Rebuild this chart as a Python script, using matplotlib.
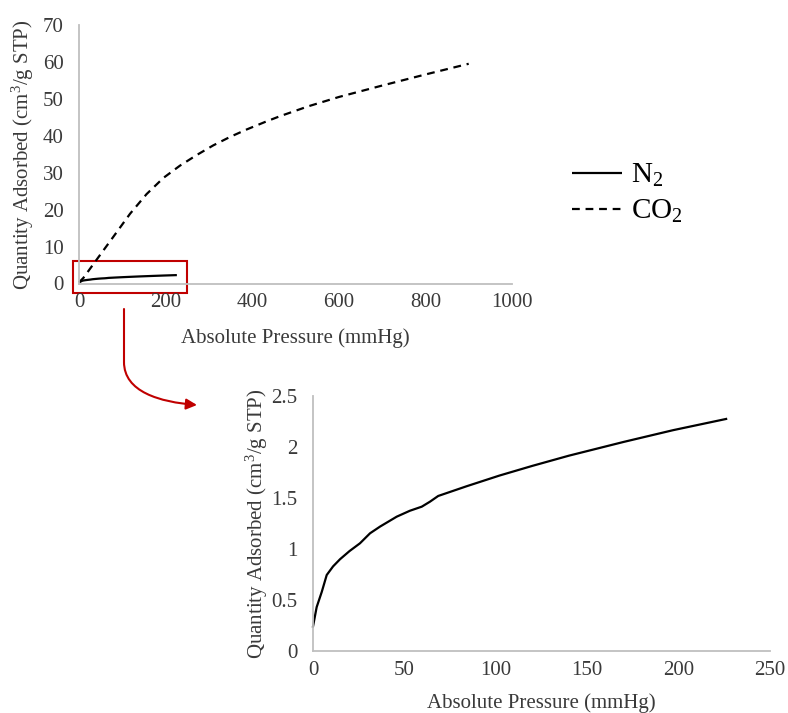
import matplotlib
matplotlib.use("Agg")
import matplotlib.pyplot as plt
from matplotlib.patches import Rectangle, FancyArrowPatch
from matplotlib.path import Path

plt.rcParams['font.family'] = ['Liberation Serif', 'DejaVu Serif']
plt.rcParams['mathtext.fontset'] = 'custom'
plt.rcParams['mathtext.rm'] = 'Liberation Serif'
plt.rcParams['mathtext.it'] = 'Liberation Serif:italic'
plt.rcParams['mathtext.bf'] = 'Liberation Serif:bold'

# ---- data ----
co2_p = [0, 10, 41, 79, 118, 156, 195, 233, 272, 310, 349, 387, 433, 464, 530, 600, 700, 800, 900]
co2_q = [0.3, 1.5, 6.5, 12.6, 18.9, 24.2, 28.6, 31.9, 34.8, 37.4, 39.7, 41.7, 43.9, 45.3, 48.0, 50.5, 53.6, 56.6, 59.5]

n2_p = [0, 2, 4.8, 7.5, 11, 14.8, 20, 25.7, 31.2, 36.7, 45.8, 53, 59.5, 64, 68.5, 84, 102, 120, 140, 170, 197, 226]
n2_q = [0.24, 0.43, 0.58, 0.745, 0.83, 0.9, 0.98, 1.056, 1.154, 1.22, 1.317, 1.375, 1.415, 1.464, 1.52, 1.615, 1.72,
        1.815, 1.915, 2.05, 2.165, 2.275]

top_xticks = [0, 200, 400, 600, 800, 1000]
top_yticks = [0, 10, 20, 30, 40, 50, 60, 70]
bot_xticks = [0, 50, 100, 150, 200, 250]
bot_yticks = [0, 0.5, 1, 1.5, 2, 2.5]
bot_yticklabels = ['0', '0.5', '1', '1.5', '2', '2.5']

series_labels = ['N$_2$', 'CO$_2$']
xlabel = 'Absolute Pressure (mmHg)'
ylabel = 'Quantity Adsorbed (cm$^3$/g STP)'

W, H = 788, 713
fig = plt.figure(figsize=(W / 100, H / 100), dpi=100)

AXC = '#BFBFBF'
TXT = '#3a3a3a'
LW = 1.6
FS = 15


def px_rect(l, t, r, b):
    return [l / W, 1 - b / H, (r - l) / W, (b - t) / H]


def style(ax, xt, yt, ytl=None):
    for s in ['top', 'right']:
        ax.spines[s].set_visible(False)
    for s in ['left', 'bottom']:
        ax.spines[s].set_color(AXC)
        ax.spines[s].set_linewidth(1.3)
    ax.set_xticks(xt)
    ax.set_yticks(yt)
    if ytl is not None:
        ax.set_yticklabels(ytl)
    ax.tick_params(length=0, labelsize=FS, colors=TXT)
    ax.tick_params(axis='y', pad=11)
    ax.tick_params(axis='x', pad=7)
    ax.set_xlim(xt[0], xt[-1])
    ax.set_ylim(yt[0], yt[-1])


# ---- top chart ----
ax1 = fig.add_axes(px_rect(79, 25, 512, 283.5))
l_n2, = ax1.plot(n2_p, n2_q, color='black', lw=LW, solid_capstyle='butt', clip_on=False)
l_co2, = ax1.plot(co2_p, co2_q, color='black', lw=LW, dashes=(3.5, 2.6), clip_on=False)
style(ax1, top_xticks, top_yticks)
ax1.set_xlabel(xlabel, fontsize=FS, color=TXT)
ax1.set_ylabel(ylabel, fontsize=FS, color=TXT)
ax1.xaxis.set_label_coords(0.5, -0.172)
ax1.yaxis.set_label_coords(-0.099, 0.5)

leg = fig.legend([l_n2, l_co2], series_labels, loc='upper left',
                 bbox_to_anchor=(546 / W, 1 - 136 / H), frameon=False,
                 fontsize=21, handlelength=1.72, handletextpad=0.28, labelspacing=0.3)
for t in leg.get_texts():
    t.set_color('black')

# red zoom box and arrow
ax1.add_patch(Rectangle((-14, -2.6), 263, 8.7, fill=False, edgecolor='#C00000', lw=1.5, clip_on=False))

arrow_path = Path([(124 / W, 1 - 309 / H), (124 / W, 1 - 362 / H),
                   (124 / W, 1 - 392 / H), (160 / W, 1 - 402 / H), (197 / W, 1 - 405 / H)],
                  [Path.MOVETO, Path.LINETO, Path.CURVE4, Path.CURVE4, Path.CURVE4])
arr = FancyArrowPatch(path=arrow_path, arrowstyle='-|>', mutation_scale=16,
                      color='#C00000', lw=1.5, transform=fig.transFigure)
fig.add_artist(arr)

# ---- bottom chart ----
ax2 = fig.add_axes(px_rect(313, 396, 770, 651))
ax2.plot(n2_p, n2_q, color='black', lw=LW, clip_on=False)
style(ax2, bot_xticks, bot_yticks, bot_yticklabels)
ax2.set_xlabel(xlabel, fontsize=FS, color=TXT)
ax2.set_ylabel(ylabel, fontsize=FS, color=TXT)
ax2.xaxis.set_label_coords(0.5, -0.165)
ax2.yaxis.set_label_coords(-0.093, 0.5)

fig.savefig('out.png', dpi=100)
